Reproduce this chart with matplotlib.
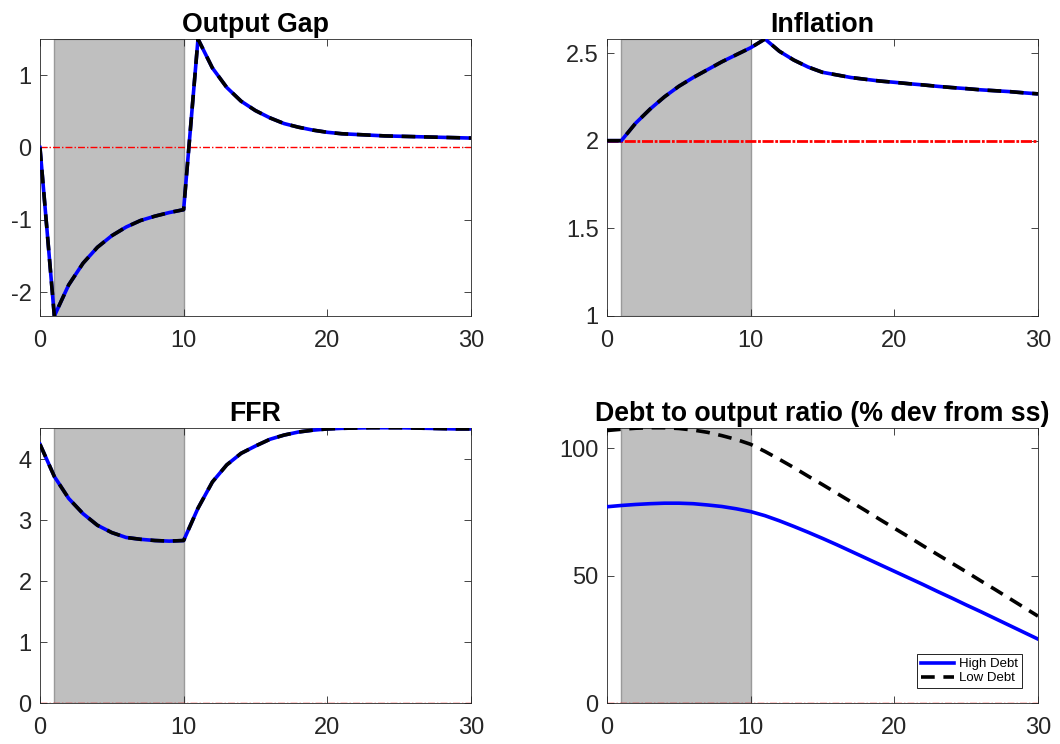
import matplotlib
matplotlib.use("Agg")
from matplotlib import pyplot as plt
import numpy as np

plt.rcParams['font.family'] = ['Liberation Sans', 'DejaVu Sans']

t = np.arange(0, 31)

# output gap (high and low debt coincide)
gap_high = [0, -2.33, -1.90, -1.60, -1.38, -1.22, -1.10, -1.01, -0.95, -0.90, -0.86,
            1.50, 1.10, 0.83, 0.64, 0.51, 0.41, 0.33, 0.28, 0.24, 0.21,
            0.19, 0.18, 0.17, 0.16, 0.155, 0.15, 0.145, 0.14, 0.135, 0.13]
gap_low = list(gap_high)

infl_high = [2.00, 2.00, 2.10, 2.18, 2.25, 2.31, 2.36, 2.405, 2.45, 2.49, 2.53,
             2.58, 2.51, 2.46, 2.42, 2.39, 2.375, 2.36, 2.35, 2.34, 2.333,
             2.325, 2.318, 2.31, 2.303, 2.297, 2.29, 2.285, 2.28, 2.273, 2.267]
infl_low = list(infl_high)

ffr_high = [4.25, 3.72, 3.36, 3.11, 2.92, 2.80, 2.72, 2.69, 2.67, 2.66, 2.67,
            3.20, 3.63, 3.91, 4.10, 4.22, 4.33, 4.40, 4.45, 4.48, 4.50,
            4.51, 4.515, 4.52, 4.52, 4.52, 4.515, 4.51, 4.505, 4.50, 4.50]
ffr_low = list(ffr_high)

debt_high = [77.1, 77.6, 78.0, 78.3, 78.5, 78.5, 78.3, 77.8, 77.2, 76.3, 75.2,
             73.6, 71.6, 69.4, 67.1, 64.7, 62.2, 59.6, 57.0, 54.4, 51.8,
             49.2, 46.6, 43.9, 41.3, 38.6, 36.0, 33.3, 30.6, 27.9, 25.2]
debt_low = [107.0, 107.5, 107.9, 108.1, 108.1, 107.8, 107.2, 106.3, 105.0, 103.5, 101.6,
            98.8, 95.7, 92.5, 89.1, 85.8, 82.4, 79.0, 75.6, 72.1, 68.7,
            65.3, 61.8, 58.4, 55.0, 51.6, 48.1, 44.7, 41.2, 37.7, 34.2]

panels = [
    ("Output Gap", gap_high, gap_low, 0, (-2.33, 1.5), [-2, -1, 0, 1]),
    ("Inflation", infl_high, infl_low, 2, (1, 2.58), [1, 1.5, 2, 2.5]),
    ("FFR", ffr_high, ffr_low, 0, (0, 4.52), [0, 1, 2, 3, 4]),
    ("Debt to output ratio (% dev from ss)", debt_high, debt_low, 0, (0, 108.1), [0, 50, 100]),
]
ss_width = [1, 2, 1, 1]
ss_style = [(0, (5, 1.5, 1, 1.5)), (0, (4, 0.6, 1, 0.6)), (0, (5, 1.5, 1, 1.5)), (0, (5, 1.5, 1, 1.5))]

positions = [
    [0.0377, 0.5753, 0.4066, 0.3723],
    [0.5726, 0.5753, 0.4066, 0.3723],
    [0.0377, 0.0547, 0.4066, 0.3704],
    [0.5726, 0.0547, 0.4066, 0.3704],
]

fig = plt.figure(figsize=(10.6, 7.44), dpi=100)

for i, (title, hi, lo, ss, ylim, yt) in enumerate(panels):
    ax = fig.add_axes(positions[i])
    ax.axvspan(1, 10, facecolor="#bfbfbf", edgecolor="#9a9a9a", linewidth=1, zorder=1)
    ax.axhline(ss, color="#ff0000", linestyle=ss_style[i], linewidth=ss_width[i], zorder=2)
    ax.plot(t, hi, color="blue", linewidth=2.6, label="High Debt", zorder=3)
    ax.plot(t, lo, color="black", linestyle=(0, (3.8, 2.4)), linewidth=2.6, label="Low Debt", zorder=4)
    ax.set_xlim(0, 30)
    ax.set_ylim(*ylim)
    ax.set_xticks([0, 10, 20, 30])
    ax.set_yticks(yt)
    ax.set_yticklabels([("%g" % v) for v in yt])
    ax.set_title(title, fontsize=19.3, fontweight="bold", pad=5)
    ax.tick_params(direction="in", top=True, right=True, length=5, width=0.6,
                   labelsize=17, colors="#262626")
    ax.tick_params(axis="x", pad=10)
    ax.tick_params(axis="y", pad=6)
    for s in ax.spines.values():
        s.set_color("#262626")
        s.set_linewidth(0.6)
    if i == 3:
        leg = ax.legend(loc="lower right", fontsize=9.5, fancybox=False, framealpha=1,
                        edgecolor="black", handlelength=2.5, borderaxespad=0,
                        bbox_to_anchor=(0.963, 0.054), handletextpad=0.4,
                        borderpad=0.3, labelspacing=0.15)
        leg.get_frame().set_linewidth(0.6)

fig.savefig("out.png", dpi=100)
